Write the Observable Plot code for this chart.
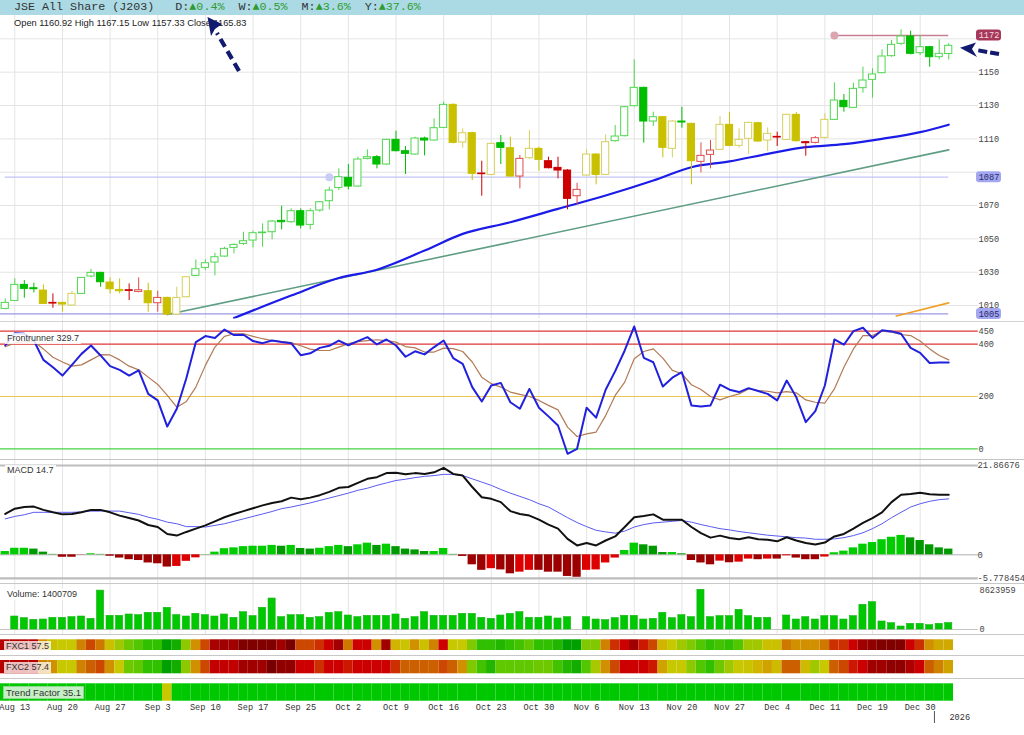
<!DOCTYPE html>
<html><head><meta charset="utf-8">
<script src="https://cdn.jsdelivr.net/npm/d3@7"></script>
<script src="https://cdn.jsdelivr.net/npm/@observablehq/plot@0.6"></script>
<style>
body{margin:0;background:#fff;}
#root{position:relative;width:1024px;height:735px;overflow:hidden;font-family:Arial,"Liberation Sans",sans-serif;background:#fff;}
.sep{position:absolute;left:0;width:1024px;height:1px;background:#cdcdcd;}
.lab{position:absolute;font:9px Arial,"Liberation Sans",sans-serif;color:#333;background:rgba(255,255,255,0.85);padding:0 2px;line-height:11px;white-space:nowrap;}
#hdr{position:absolute;left:0;top:0;width:1024px;height:15px;background:#abdae4;font:11.7px "Liberation Mono","DejaVu Sans Mono",monospace;line-height:15px;color:#333;white-space:pre;}
#hdr .up{color:#2f9a2f;}
#ohlc{position:absolute;left:14px;top:17px;font:9.3px Arial,"Liberation Sans",sans-serif;color:#222;line-height:12px;white-space:nowrap;}
</style></head><body><div id="root"></div>
<script>
// ---------------- DATA ----------------
const tradingDays = {
  "2025-08": [12,13,14,15,18,19,20,21,22,25,26,27,28,29],
  "2025-09": [1,2,3,4,5,8,9,10,11,12,15,16,17,18,19,22,23,25,26,29,30],
  "2025-10": [1,2,3,6,7,8,9,10,13,14,15,16,17,20,21,22,23,24,27,28,29,30,31],
  "2025-11": [3,4,5,6,7,10,11,12,13,14,17,18,19,20,21,24,25,26,27,28],
  "2025-12": [1,2,3,4,5,8,9,10,11,12,15,17,18,19,22,23,24,29,30,31],
  "2026-01": [2,5]
};
const monthAbbr = ["Jan","Feb","Mar","Apr","May","Jun","Jul","Aug","Sep","Oct","Nov","Dec"];

const open = [1008,1012.8,1022.4,1020.4,1019,1011.6,1011.6,1010,1017,1027.4,
 1029.6,1023.8,1019.4,1019.2,1018.2,1018.6,1011.4,1014.6,1004.6,1015,
 1027.8,1032.6,1035.8,1039.4,1044.6,1047,1049,1053.4,1054,1060.8,
 1060,1066.6,1058.4,1067,1072.6,1080.5,1086.6,1081.4,1098,1099,
 1094.6,1109.4,1102.6,1100.6,1110.2,1109,1116.6,1130.4,1107.8,1113.4,
 1089.2,1088.4,1107.4,1104.4,1087.4,1098.4,1104,1096.6,1092.6,1091,
 1075.6,1088,1100.6,1088.4,1108.6,1111.6,1129.6,1140.6,1120.4,1123,
 1104,1120.4,1119,1096.2,1100.4,1103.4,1118.4,1105.8,1110,1119.4,
 1109,1111.2,1109.4,1124.4,1108,1107.6,1110.6,1121.4,1132.8,1128.6,
 1140.4,1145.4,1149.4,1159.6,1167,1171.4,1161.4,1165,1159,1160.92];
const high = [1014,1026,1025,1023.4,1022.4,1017,1012,1018.4,1026.8,1031.8,
 1030,1026.6,1026,1023,1026.6,1023.4,1018.6,1015,1021,1027.4,
 1037.4,1037.4,1041.4,1045,1047,1054,1054.6,1059,1061,1069.6,
 1068,1068,1068,1072.4,1081,1092,1094.6,1099,1103.4,1100,
 1109.8,1114.6,1105.4,1111,1111,1122,1132,1131,1116,1114,
 1096.6,1107.4,1112,1111,1100,1115,1105,1099,1099,1091.6,
 1083.4,1103.4,1101,1112.4,1118,1129.4,1157.4,1141,1126,1123.4,
 1121,1129,1119.4,1107.6,1109,1123.4,1125.8,1116,1120,1120,
 1116.6,1114,1124.8,1125.8,1108.4,1111.4,1125,1143.6,1136.6,1143.4,
 1153,1152,1163.4,1169,1175.4,1174.6,1172,1165.4,1169.4,1167.15];
const low = [1007.4,1012.6,1014.4,1017.6,1010.6,1008.4,1006,1009.6,1016.8,1026.6,
 1021,1017,1017,1013,1017.6,1006,1006,1004,1004,1014.6,
 1027.4,1031,1027.8,1039,1041,1046,1044.6,1045,1049.4,1055.4,
 1059.4,1056,1055.4,1066,1067.4,1079,1079.4,1081,1097.4,1092,
 1094.2,1102.2,1088.6,1100.2,1099.8,1108.6,1116.2,1107,1104.4,1085,
 1075.6,1088,1094.6,1087,1080,1097.6,1090.6,1092,1086,1067.4,
 1070.4,1087.6,1082.4,1088,1108,1111.2,1129.2,1107.4,1117.4,1098.6,
 1098.6,1116.4,1082.4,1089.6,1092,1103,1105.4,1104.4,1100.6,1108,
 1102.4,1105.4,1109,1108,1099.6,1107,1110,1121,1126,1128.2,
 1137.4,1134.4,1149,1159,1166,1160.4,1160,1153,1157.4,1157.33];
const close = [1011.6,1022.4,1020,1019.8,1011,1011.2,1010.6,1017,1026.6,1029.6,
 1024,1019.8,1018.6,1018.8,1019.2,1011.4,1014.6,1004.6,1014.6,1027,
 1031.8,1035.4,1039,1044,1046.4,1048.6,1053.4,1053.8,1060.4,1060,
 1066.6,1058,1066.6,1072,1079,1087,1081.4,1097.6,1099,1094.6,
 1109.4,1102.6,1101,1110.2,1109,1116.4,1130.4,1107.6,1113.4,1089,
 1088.8,1107,1104.6,1087.4,1098,1104,1097.4,1092.4,1091,1074,
 1079.4,1100.6,1088.4,1108,1111.4,1129,1140.6,1120.4,1123,1104.6,
 1120.4,1119.8,1096.6,1099.8,1103,1118.4,1105.8,1109.4,1119.6,1108.4,
 1113,1110.8,1124.4,1108.6,1107.4,1110.4,1121.4,1133,1129,1140,
 1145,1148.6,1159.4,1166.4,1171.4,1161,1165,1159,1161,1165.83];
// candle colour state: g = bullish, o = neutral, r = bearish
const candleState = ("ggggoroogg"+"goorrorooo"+"gggggggggg"+"gggggggggg"+"gggggggooo"+
  "rogoroorrr"+"rooogggggo"+"ogorrooooo"+"oroorroggg"+"gggggggggg").split("");

// moving average (vertices)
const maIdx = [24,30,35,39,44,48,53,58,63,68,72,76,80,84,88,92,96,99];
const maVal = [1002.5,1016,1026.5,1031.5,1043,1053,1060,1068,1076,1085,1093,1096.5,1101,1105,1106.8,1110,1114,1118.5];
// trend line and short orange line
const trendIdx = [17, 99], trendVal = [1004.6, 1103.4];
const orangeIdx = [93.5, 99], orangeVal = [1003.7, 1011.6];
// levels
const resistance = 1172, resistanceFrom = 87;
const support1 = 1087, support1Anchor = 34;
const support2 = 1005;
const priceGrid = [1010,1030,1050,1070,1090,1110,1130,1150,1170];
const priceLabels = [1010,1030,1050,1070,1110,1130,1150];

// Frontrunner
const frFast = [395,442,440,414,340,312,280,321,363,395,
 357,316,302,280,300,210,185,85,153,270,
 408,431,424,456,435,436,412,404,414,408,
 404,358,365,386,394,414,396,412,427,399,
 418,395,352,373,361,389,414,347,325,236,
 181,242,252,178,153,229,157,124,89,-19,
 0,157,119,226,297,376,468,348,331,238,
 272,293,166,162,166,245,226,217,232,221,
 210,185,261,198,102,144,242,418,398,450,
 463,424,453,449,440,386,367,328,330,329.7];
const frSlow = [390,405,410,410,382,350,332,316,321,340,
 360,359,340,316,302,274,246,204,159,181,
 236,319,389,430,440,440,430,421,414,410,
 406,394,381,376,376,389,402,410,414,417,
 414,408,391,386,370,370,385,383,372,332,
 274,249,236,217,208,200,185,166,149,83,
 47,57,64,127,204,255,344,372,382,347,
 300,287,245,227,200,187,200,210,229,223,
 220,214,219,214,187,178,175,229,312,382,
 433,433,450,446,437,433,412,382,357,340];
const frLevelsHigh = [450, 400], frLevelMid = 200, frLevelLow = 0;

// MACD
const macd = [10.0,11.3,11.7,11.8,11.0,10.4,9.9,10.0,10.4,11.0,
 11.0,10.4,9.6,9.0,8.4,7.3,6.8,5.1,4.7,5.6,
 6.4,7.2,8.2,9.2,10.0,10.7,11.4,12.1,12.7,13.1,
 14.0,13.6,14.0,14.6,15.4,16.4,16.6,17.6,18.6,19.0,
 20.0,20.1,19.7,20.0,19.8,20.2,21.3,19.8,19.4,16.6,
 14.1,13.7,12.9,10.7,10.0,9.6,8.6,7.4,6.4,3.9,
 2.3,2.9,2.3,3.5,4.5,6.8,9.2,9.5,9.9,8.6,
 8.6,8.6,6.8,5.3,4.2,4.7,4.1,3.8,4.3,3.8,
 3.7,3.3,4.3,3.5,2.9,2.5,3.0,4.5,5.1,6.4,
 7.8,9.0,10.4,12.9,14.7,14.9,15.2,14.8,14.7,14.7];
const signal = [8.8,9.4,9.8,10.4,10.4,10.4,10.4,10.4,10.5,10.7,
 10.7,10.7,10.7,10.3,9.9,9.2,8.7,8.0,7.6,6.9,
 6.9,6.8,7.2,7.6,8.2,8.8,9.4,10.0,10.6,11.3,
 11.7,12.2,12.7,13.3,13.9,14.5,15.1,15.8,16.3,17.0,
 17.6,18.2,18.5,18.9,19.2,19.4,19.7,19.7,19.4,18.6,
 17.8,17.0,16.0,15.1,14.3,13.5,12.5,11.7,10.4,9.1,
 7.9,6.9,6.0,5.6,5.3,5.8,6.8,7.4,7.8,8.0,
 8.2,8.4,8.0,7.4,6.9,6.4,6.1,5.7,5.4,5.1,
 4.8,4.6,4.4,4.2,4.1,3.8,3.8,3.9,4.2,4.7,
 5.4,6.4,7.6,9.1,10.4,11.7,12.5,13.1,13.5,13.7];
const hist = [0.8,1.6,1.6,1.4,0.65,0.1,-0.6,-0.6,-0.05,0.25,
 0.1,-0.35,-0.8,-1.2,-1.4,-2.0,-2.2,-3.0,-2.85,-1.6,
 -0.75,0.05,0.65,1.5,1.7,2.0,2.1,2.1,2.3,2.1,
 2.3,1.55,1.4,1.6,2.0,2.3,2.0,2.45,2.85,2.3,
 2.6,2.0,1.4,1.2,0.8,0.8,1.55,0.1,-0.4,-2.45,
 -3.8,-3.4,-3.7,-4.65,-4.25,-3.8,-3.8,-4.25,-4.25,-5.3,
 -5.5,-3.8,-3.7,-2.0,-0.8,1.05,2.85,2.45,2.1,0.55,
 0.55,0.25,-1.4,-2.0,-2.45,-1.55,-1.95,-1.8,-1.05,-1.2,
 -1.05,-1.05,-0.25,-0.8,-1.2,-1.2,-0.55,0.5,0.9,1.7,
 2.6,3.0,3.7,4.3,4.75,4.15,3.5,2.45,1.7,1.4];
const macdMax = 21.86676, macdMin = -5.778454;

// Volume
const volume = [null,2820000,2460000,2100000,2170000,2530000,2530000,2680000,2820000,2320000,
 8450000,2970000,2970000,3260000,3110000,3620000,3620000,4710000,3110000,2820000,
 3400000,3110000,2820000,3260000,2530000,3760000,2900000,4710000,6730000,2680000,
 3110000,3110000,2530000,2680000,3620000,3760000,3040000,2680000,2970000,2970000,
 2970000,3260000,2320000,2680000,3760000,2970000,2970000,2970000,3400000,3400000,
 2530000,2320000,3040000,3400000,3760000,2530000,2530000,2820000,2390000,2680000,
 null,2680000,2170000,2030000,2460000,2970000,2970000,2170000,2320000,3620000,
 2460000,3110000,2680000,8623959,2680000,2900000,2900000,4270000,2900000,2530000,
 2530000,null,3040000,2170000,2680000,2170000,2900000,2900000,2170000,2900000,
 5360000,5940000,1740000,1380000,650000,1230000,1230000,940000,1230000,1400709];
const volumeMax = 8623959;

// heat strips: level 0 (deep red) ... 11 (deep green)
const fxc1 = [1.5,1.5,1.5,1.5,5,6.6,7,7,4.7,3.5,
 4.5,6.6,8,8.8,9.3,10,10,11,10.6,8.3,
 5,3.5,1.2,1,1,0.2,0.2,0.2,0.2,1,
 0,3.5,3.5,3,2,1,4.5,2,2,5,
 1,6,6.8,5,6.6,4.7,2,7,7,8.5,
 10,10,10.3,10,9.6,9,10,10,10.3,11,
 11,8.5,8.5,4.7,3,2,1,2.5,3.5,6,
 7,8,8.5,9.3,10,9.6,10,9.3,8,8,
 6.6,6.6,4.5,5,5,5,4.5,3,3,2,
 1,0.6,0.2,0.2,0.2,2,3,5,5.7,5.7];
const fxc2 = [1.5,1.5,1.5,1.5,4.7,5,7,7,4.7,4,
 3.5,5,7,8.8,9,10,10,11,10.6,8.3,
 5,3.5,1.8,1.8,1.8,1,1,1,0,0.6,
 0.6,2,2,3,2,2,2.5,2,2,2,
 2,3,4,4,4,4,3.5,4,5,8.5,
 9.6,10.3,9,9,9,9,8.8,8.8,9.6,10.3,
 10.6,9.3,7.8,5,3.5,2,2,2,2.5,5.5,
 7,7,8.3,9.3,10,8.8,8,7,6.8,6,
 5.5,6.3,4,4,6.3,8,7,4,3.5,2.5,
 2,1,1,0.6,0.6,1.3,2,4,4.7,5.5];
const trendFactor = ("uuuuuuuuuuuuuuuuu"+"f"+"u".repeat(82)).split("");

// ---------------- BUILD ----------------
const dates = [];
for (const [ym, days] of Object.entries(tradingDays))
  for (const d of days) dates.push(new Date(+ym.slice(0,4), +ym.slice(5)-1, d));
const N = dates.length;
const idx = d3.range(N);
const weekTicks = d3.range(1, N, 5);
const tickLabel = i => monthAbbr[dates[i].getMonth()] + " " + dates[i].getDate();
const yearStart = dates.findIndex(d => d.getFullYear() === 2026);

const mono = "'Liberation Mono','DejaVu Sans Mono',monospace";
const root = document.getElementById("root");
function put(node, top){ node.style.position="absolute"; node.style.left="0px"; node.style.top=top+"px"; root.appendChild(node); }
const X = {type:"linear", domain:[-0.5, N-0.5], range:[0, 953], axis:null};
const base = {width:1024, marginLeft:0, marginRight:71, marginTop:0, marginBottom:0,
  style:{background:"transparent", overflow:"visible"}};
const gridColor = "#e4e4e4";
const lineEnd = N + 2.1; // horizontal guide lines run a little into the label gutter

// header
const hdr = document.createElement("div"); hdr.id = "hdr";
hdr.innerHTML = ' JSE All Share (J203)   D:<span class="up">▲0.4%</span>  W:<span class="up">▲0.5%</span>  M:<span class="up">▲3.6%</span>  Y:<span class="up">▲37.6%</span>';
hdr.style.paddingLeft = "7px"; hdr.style.boxSizing = "border-box";
root.appendChild(hdr);

// ---- price panel ----
const last = N - 1;
const candles = idx.map(i => ({i, o:open[i], h:high[i], l:low[i], c:close[i], s:candleState[i]}));
const COL = {g:{fill:"#00bd00", hollow:"#4fd64f"}, o:{fill:"#c8c000", hollow:"#d6cf5e"}, r:{fill:"#cc0000", hollow:"#de4b4b"}};
const up = d => d.c >= d.o;
const pricePlot = Plot.plot({...base, height:305, marginBottom:1.6,
  x:X, y:{domain:[1002,1184], range:[303.4,0], axis:null}, color:{type:"identity"},
  marks:[
    Plot.ruleY(priceGrid, {x1:-0.5, x2:lineEnd, stroke:gridColor}),
    Plot.ruleX(weekTicks, {stroke:gridColor}),
    Plot.ruleY([support2], {x1:-0.5, x2:last, stroke:"#9a9ae8", strokeWidth:1.3}),
    Plot.ruleY([support1], {x1:0, x2:last, stroke:"#c2c6f6", strokeWidth:1.2}),
    Plot.dot([support1], {x:support1Anchor, y:d=>d, r:4, fill:"#c9ccf6"}),
    Plot.ruleY([resistance], {x1:resistanceFrom, x2:last, stroke:"#c57f95", strokeWidth:1.3}),
    Plot.dot([resistance], {x:resistanceFrom, y:d=>d, r:4, fill:"#dba5b0"}),
    Plot.line(trendIdx.map((x,k)=>({x, y:trendVal[k]})), {x:"x", y:"y", stroke:"#5f9d84", strokeWidth:1.6, clip:true}),
    Plot.line(orangeIdx.map((x,k)=>({x, y:orangeVal[k]})), {x:"x", y:"y", stroke:"#f0a028", strokeWidth:1.6, clip:true}),
    Plot.line(maIdx.map((x,k)=>({x, y:maVal[k]})), {x:"x", y:"y", stroke:"#1c1ce8", strokeWidth:2.2, curve:"monotone-x", clip:true}),
    Plot.ruleX(candles, {x:"i", y1:"l", y2:"h", stroke:d => up(d) ? COL[d.s].hollow : COL[d.s].fill, strokeWidth:1}),
    Plot.rect(candles, {x1:d=>d.i-0.5, x2:d=>d.i+0.5, y1:"o", y2:"c", insetLeft:1.2, insetRight:1.2,
      fill:d => up(d) ? "#ffffff" : COL[d.s].fill, stroke:d => up(d) ? COL[d.s].hollow : COL[d.s].fill, strokeWidth:1}),
    Plot.text(priceLabels, {x:N-0.5, y:d=>d, text:d=>String(d), dx:25, textAnchor:"start", fontFamily:mono, fontSize:8.6, fill:"#444"}),
    Plot.rect([resistance], {x1:N-0.5, x2:N-0.5, y1:d=>d, y2:d=>d, insetLeft:23, insetRight:-48, insetTop:-5.5, insetBottom:-5.5, fill:"#a6385a", rx:3}),
    Plot.text([resistance], {x:N-0.5, y:d=>d, text:d=>String(d), dx:35.5, fontFamily:mono, fontSize:8.6, fill:"#f4dbe3"}),
    Plot.rect([support1, support2], {x1:N-0.5, x2:N-0.5, y1:d=>d, y2:d=>d, insetLeft:23, insetRight:-48, insetTop:-5.5, insetBottom:-5.5, fill:"#a3a7f2", rx:3}),
    Plot.text([support1, support2], {x:N-0.5, y:d=>d, text:d=>String(d), dx:35.5, fontFamily:mono, fontSize:8.6, fill:"#2a2a66"})
  ]});
put(pricePlot, 15);

const ohlc = document.createElement("div"); ohlc.id = "ohlc";
ohlc.textContent = `Open ${open[last]} High ${high[last]} Low ${low[last]} Close ${close[last]}`;
root.appendChild(ohlc);

// ---- Frontrunner ----
const frY = v => 128.3 - 0.2615 * v;
const frPlot = Plot.plot({...base, height:140,
  x:X, y:{domain:[-40,480], range:[frY(-40), frY(480)], axis:null},
  marks:[
    Plot.ruleX(weekTicks, {stroke:gridColor}),
    Plot.ruleY(frLevelsHigh, {x1:-0.5, x2:lineEnd, stroke:"#e03636", strokeWidth:1.2}),
    Plot.ruleY([frLevelMid], {x1:-0.5, x2:lineEnd, stroke:"#ecc453", strokeWidth:1.2}),
    Plot.ruleY([frLevelLow], {x1:-0.5, x2:lineEnd, stroke:"#45d445", strokeWidth:1.2}),
    Plot.line(idx, {x:d=>d, y:d=>frSlow[d], stroke:"#b27a55", strokeWidth:1.2}),
    Plot.line(idx, {x:d=>d, y:d=>frFast[d], stroke:"#2121dd", strokeWidth:2}),
    Plot.text([...frLevelsHigh, frLevelMid, frLevelLow], {x:N-0.5, y:d=>d, text:d=>String(d), dx:25, textAnchor:"start", fontFamily:mono, fontSize:8.6, fill:"#444"})
  ]});
put(frPlot, 320);

// ---- MACD ----
const mY = v => 94.3 - 4.084 * v;
const histColor = i => {
  const v = hist[i], p = i > 0 ? hist[i-1] : v;
  return v >= 0 ? (v >= p ? "#00cc00" : "#009a00") : (v <= p ? "#9c0000" : "#dd0000");
};
const macdPlot = Plot.plot({...base, height:122,
  x:X, y:{domain:[-6.5,22.5], range:[mY(-6.5), mY(22.5)], axis:null}, color:{type:"identity"},
  marks:[
    Plot.ruleX(weekTicks, {stroke:gridColor}),
    Plot.ruleY([macdMax, macdMin], {x1:-0.5, x2:lineEnd, stroke:"#bdbdbd", strokeWidth:2.2}),
    Plot.ruleY([0], {x1:-0.5, x2:lineEnd, stroke:"#b0b0b0", strokeWidth:1}),
    Plot.rect(idx, {x1:d=>d-0.5, x2:d=>d+0.5, y1:0, y2:d=>hist[d], insetLeft:0.6, insetRight:0.6, fill:histColor}),
    Plot.line(idx, {x:d=>d, y:d=>signal[d], stroke:"#5a5af0", strokeWidth:1}),
    Plot.line(idx, {x:d=>d, y:d=>macd[d], stroke:"#111111", strokeWidth:2}),
    Plot.text([macdMax, 0, macdMin], {x:N-0.5, y:d=>d, text:d=>String(d), dx:24, textAnchor:"start", fontFamily:mono, fontSize:8.8, fill:"#444"})
  ]});
put(macdPlot, 460);

// ---- Volume ----
const vY = v => 47 - v * 39.7 / volumeMax;
const volPlot = Plot.plot({...base, height:52,
  x:X, y:{domain:[0, 9.5e6], range:[vY(0), vY(9.5e6)], axis:null},
  marks:[
    Plot.ruleX(weekTicks, {stroke:gridColor}),
    Plot.ruleY([0], {x1:-0.5, x2:lineEnd, stroke:"#c4c4c4"}),
    Plot.rect(idx.filter(i => volume[i] != null), {x1:d=>d-0.5, x2:d=>d+0.5, y1:0, y2:d=>volume[d], insetLeft:1.2, insetRight:1.2, fill:"#00c800", stroke:"#13b313", strokeWidth:0.6}),
    Plot.text([volumeMax, 0], {x:N-0.5, y:d=>d, text:d=>String(d), dx:26, textAnchor:"start", fontFamily:mono, fontSize:8.6, fill:"#444"})
  ]});
put(volPlot, 582);

// ---- heat strips ----
const heatStops = d3.range(12);
const heatColors = ["#780000","#a00000","#cc0000","#cc3000","#cc6000","#d09000","#d0b400","#c8c800","#a0c800","#60c800","#30c000","#00a000"];
function heatPlot(values, h, yTop, yBot){
  return Plot.plot({...base, height:h, x:X, y:{domain:[0,1], range:[yBot, yTop], axis:null},
    color:{type:"linear", domain:heatStops, range:heatColors},
    marks:[Plot.rect(idx, {x1:d=>d-0.5, x2:d=>d+0.5, y1:0, y2:1, fill:d=>values[d]})]});
}
put(heatPlot(fxc1, 18, 3.3, 14), 636);
put(heatPlot(fxc2, 19, 3, 16.3), 657);

const tfPlot = Plot.plot({...base, height:22, x:X, y:{domain:[0,1], range:[20.7, 3.3], axis:null},
  color:{type:"ordinal", domain:["u","f"], range:["#00c800","#c8c800"]},
  marks:[Plot.rect(idx, {x1:d=>d-0.5, x2:d=>d+0.5, y1:0, y2:1, fill:d=>trendFactor[d]})]});
put(tfPlot, 680);

// ---- date axis ----
const axisPlot = Plot.plot({...base, height:14, x:X, y:{axis:null},
  marks:[Plot.text(weekTicks, {x:d=>d, text:tickLabel, fontFamily:mono, fontSize:8.6, fill:"#333"})]});
put(axisPlot, 700);
const yearPlot = Plot.plot({...base, height:12, x:X, y:{axis:null},
  marks:[
    Plot.ruleX([yearStart - 0.5], {stroke:"#555", strokeWidth:1}),
    Plot.text([yearStart - 0.5], {x:d=>d, text:d=>String(dates[yearStart].getFullYear()), dx:15, textAnchor:"start", fontFamily:mono, fontSize:8.6, fill:"#333"})
  ]});
put(yearPlot, 711);

// separators
for (const [t, c] of [[321,"#d4d4d4"],[459,"#c4c4c4"],[582.5,"#c8c8c8"],[634,"#c8c8c8"],[655,"#c8c8c8"],[678,"#c8c8c8"]]) {
  const s = document.createElement("div"); s.className = "sep"; s.style.top = t + "px"; s.style.background = c; root.appendChild(s);
}

// panel labels
function label(text, left, top, extra){
  const el = document.createElement("div"); el.className = "lab"; el.textContent = text;
  el.style.left = left + "px"; el.style.top = top + "px"; if (extra) Object.assign(el.style, extra); root.appendChild(el);
}
label(`Frontrunner ${frFast[last]}`, 5, 333);
label(`MACD ${macd[last]}`, 5, 465);
label(`Volume: ${(volume[last]).toString()}`, 5, 589);
label(`FXC1 ${57.5}`, 4, 641, {background:"rgba(255,255,255,0.75)"});
label(`FXC2 ${57.4}`, 4, 662, {background:"rgba(255,255,255,0.75)"});
label(`Trend Factor ${35.1}`, 3, 686, {background:"#c6efc6", border:"1px solid #8fd88f", fontSize:"9.5px"});

// annotation arrows
const ns = "http://www.w3.org/2000/svg";
const ov = document.createElementNS(ns, "svg");
ov.setAttribute("width", 1024); ov.setAttribute("height", 735);
ov.style.position = "absolute"; ov.style.left = "0"; ov.style.top = "0"; ov.style.pointerEvents = "none";
ov.innerHTML = `
 <line x1="239" y1="71" x2="217" y2="33" stroke="#111a6e" stroke-width="4.2" stroke-dasharray="9,5"/>
 <polygon points="207.5,17 222,24 215,29 211,36" fill="#111a6e"/>
 <line x1="999" y1="54" x2="976" y2="50" stroke="#111a6e" stroke-width="4" stroke-dasharray="9,3"/>
 <polygon points="960,47.7 976,42.5 972,49 977,57" fill="#111a6e"/>`;
root.appendChild(ov);
</script></body></html>
